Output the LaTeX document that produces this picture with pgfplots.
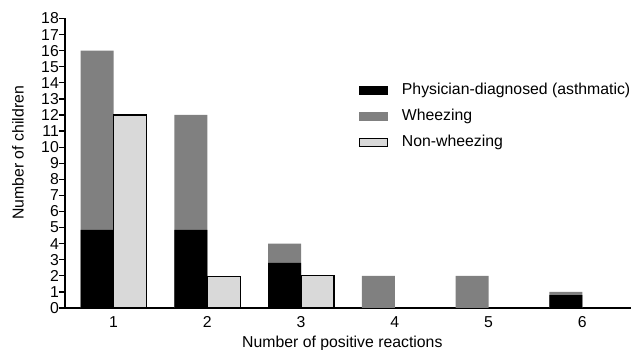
\documentclass[border=0pt]{standalone}
\usepackage{fontspec}
\setmainfont{Liberation Sans}
\usepackage{pgfplots}
\pgfplotsset{compat=1.18}
\definecolor{wheeze}{HTML}{808080}
\definecolor{nonwheeze}{HTML}{D9D9D9}
\pgfplotsset{
  patchlegend/.style={legend image code/.code={\path[##1] (0pt,-4.5pt) rectangle (29pt,4.5pt);}},
  boxlegend/.style={legend image code/.code={\path[##1] (0.6pt,-4pt) rectangle (28.4pt,4pt);}},
}
\begin{document}
\fontsize{15.8}{18}\selectfont
\begin{tikzpicture}
\useasboundingbox (-65pt,-42pt) rectangle (567pt,308pt);
\begin{axis}[
  at={(0,0)}, anchor=south west,
  scale only axis, width=566pt, height=289.5pt,
  xmin=0.482, xmax=6.52, ymin=0, ymax=18,
  axis lines=left, axis line style={-, line width=1.2pt, black},
  xtick={1,2,3,4,5,6}, ytick={0,1,...,18},
  tick align=outside, major tick length=6pt,
  tick style={line width=1.2pt, black},
  xtick style={draw=none},
  /pgf/number format/assume math mode=true,
  ticklabel style={font=\fontsize{15.8}{18}\selectfont},
  label style={font=\fontsize{15.8}{18}\selectfont},
  xticklabel style={anchor=base, yshift=-14pt},
  yticklabel style={anchor=east, xshift=0pt, inner sep=0pt},
  xlabel={Number of positive reactions},
  ylabel={Number of children},
  xlabel style={at={(axis description cs:0.49,0)}, anchor=base, yshift=-40pt},
  ylabel style={at={(axis description cs:-0.0832,0.536)}, anchor=center},
  legend style={at={(axis description cs:0.519,0.777)}, anchor=north west,
    draw=none, fill=none, inner sep=0pt,
    font=\fontsize{15.8}{18}\selectfont,
    nodes={inner sep=0pt, text height=11.4pt, text depth=3.3pt, anchor=west},
    /tikz/every odd column/.append style={column sep=14pt},
    row sep=11.3pt},
  legend cell align=left,
]
% Wheezing totals (stack top), left bar
\addplot[ybar, bar width=33pt, bar shift=-16.5pt, fill=wheeze, draw=none, forget plot]
  coordinates {(1,16) (2,12) (3,4) (4,2) (5,2) (6,1)};
% Physician-diagnosed (asthmatic), bottom part of left bar
\addplot[ybar, bar width=33pt, bar shift=-16.5pt, fill=black, draw=none, forget plot]
  coordinates {(1,4.85) (2,4.85) (3,2.8) (6,0.8)};
% Non-wheezing, right bar
\addplot[ybar, bar width=33pt, bar shift=16.5pt, fill=nonwheeze, draw=black, line width=1.2pt, forget plot]
  coordinates {(1,12) (2,1.95) (3,2)};

\addlegendimage{fill=black, draw=none, patchlegend}
\addlegendentry{Physician-diagnosed (asthmatic)}
\addlegendimage{fill=wheeze, draw=none, patchlegend}
\addlegendentry{Wheezing}
\addlegendimage{fill=nonwheeze, draw=black, line width=1.2pt, boxlegend}
\addlegendentry{Non-wheezing}
\end{axis}
\end{tikzpicture}
\end{document}
